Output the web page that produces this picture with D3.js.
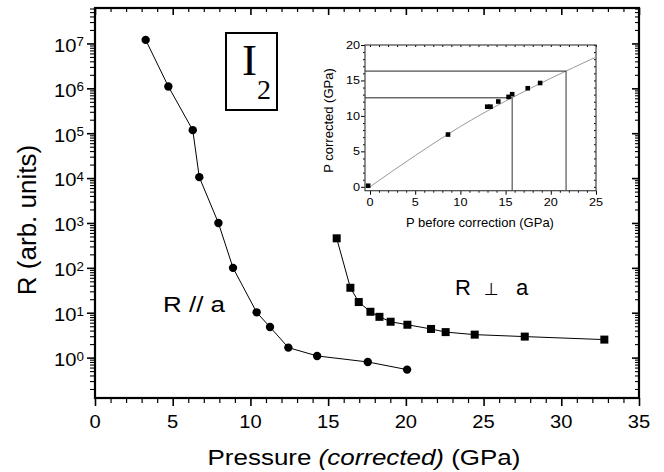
<!DOCTYPE html>
<html>
<head>
<meta charset="utf-8">
<script src="https://cdn.jsdelivr.net/npm/d3@7"></script>
<style>
    body { margin: 0; background: #fff; }
    svg { display: block; font-family: "Liberation Sans", Arial, Helvetica, sans-serif; }
    .axis path, .axis line { stroke: #000; }
</style>
</head>
<body>
<svg id="chart" width="664" height="472"></svg>
<script>
// main panel: resistance vs corrected pressure
var pressurePar = [3.26, 4.72, 6.29, 6.71, 7.94, 8.88, 10.4, 11.26, 12.44, 14.29, 17.55, 20.08];
var resPar = [1.2e7, 1.1e6, 1.17e5, 1.05e4, 1.0e3, 100, 10.2, 4.8, 1.67, 1.09, 0.80, 0.54];
var pressurePerp = [15.55, 16.43, 16.97, 17.72, 18.3, 19.02, 20.1, 21.62, 22.56, 24.43, 27.65, 32.77];
var resPerp = [455, 36, 17.3, 10.5, 8.1, 6.3, 5.4, 4.35, 3.7, 3.25, 2.94, 2.52];
var xTicks = [0, 5, 10, 15, 20, 25, 30, 35];
var yDecades = [0, 1, 2, 3, 4, 5, 6, 7];

// inset: pressure calibration
var pBefore = [-0.2, 8.63, 12.97, 13.33, 14.19, 15.33, 15.73, 17.45, 18.82];
var pCorrected = [0.15, 7.37, 11.3, 11.3, 12.03, 12.68, 13.06, 13.9, 14.64];
var fitBefore = [0, 5, 10, 15, 20, 25];
var fitCorrected = [0, 4.4, 8.5, 12.1, 15.3, 18.3];
var guideBefore = [15.73, 21.69];
var guideCorrected = [12.55, 16.32];
var insetXTicks = [0, 5, 10, 15, 20, 25];
var insetYTicks = [0, 5, 10, 15, 20];

var svg = d3.select('#chart');

var x = d3.scaleLinear().domain([0, 35]).range([95, 639]);
var y = d3.scaleLog().domain([Math.pow(10, -0.9), Math.pow(10, 7.79)]).range([398, 8]);

function label(g, str, px, py, size, anchor, sx) {
    return g.append('text')
        .attr('transform', 'translate(' + px + ',' + py + ') scale(' + sx + ',1)')
        .attr('text-anchor', anchor)
        .style('font-size', size + 'px')
        .text(str);
}

function tickAxis(g, axis, width) {
    g.attr('class', 'axis').call(axis);
    g.select('.domain').remove();
    g.selectAll('.tick line').attr('stroke-width', width);
    return g;
}

// minor values
var xMinor = d3.range(0, 36).filter(function (v) { return v % 5 !== 0; });
var yMinor = [];
d3.range(-1, 8).forEach(function (e) {
    d3.range(2, 10).forEach(function (m) {
        var v = m * Math.pow(10, e);
        if (v > y.domain()[0] && v < y.domain()[1]) { yMinor.push(v); }
    });
});
var yMajor = yDecades.map(function (e) { return Math.pow(10, e); });

// bottom (outward) and top (inward) ticks
tickAxis(svg.append('g').attr('transform', 'translate(0,398)'),
    d3.axisBottom(x).tickValues(xTicks).tickSize(8).tickFormat(''), 1.6);
tickAxis(svg.append('g').attr('transform', 'translate(0,398)'),
    d3.axisBottom(x).tickValues(xMinor).tickSize(5).tickFormat(''), 1.2);
tickAxis(svg.append('g').attr('transform', 'translate(0,8)'),
    d3.axisBottom(x).tickValues(xTicks).tickSize(7).tickFormat(''), 1.6);
tickAxis(svg.append('g').attr('transform', 'translate(0,8)'),
    d3.axisBottom(x).tickValues(xMinor).tickSize(4).tickFormat(''), 1.2);

// left (outward) and right (inward) ticks
tickAxis(svg.append('g').attr('transform', 'translate(95,0)'),
    d3.axisLeft(y).tickValues(yMajor).tickSize(8).tickFormat(''), 1.6);
tickAxis(svg.append('g').attr('transform', 'translate(95,0)'),
    d3.axisLeft(y).tickValues(yMinor).tickSize(5).tickFormat(''), 1.1);
tickAxis(svg.append('g').attr('transform', 'translate(639,0)'),
    d3.axisLeft(y).tickValues(yMajor).tickSize(7).tickFormat(''), 1.6);
tickAxis(svg.append('g').attr('transform', 'translate(639,0)'),
    d3.axisLeft(y).tickValues(yMinor).tickSize(4).tickFormat(''), 1.1);

svg.append('rect')
    .attr('x', 95).attr('y', 8)
    .attr('width', 639 - 95).attr('height', 398 - 8)
    .attr('fill', 'none').attr('stroke', '#000').attr('stroke-width', 2.2);

// tick labels
xTicks.forEach(function (v) {
    label(svg, String(v), x(v), 428, 18, 'middle', 1.12);
});
yDecades.forEach(function (e) {
    var t = svg.append('text')
        .attr('transform', 'translate(84,' + (y(Math.pow(10, e)) + 8.4) + ') scale(1.12,1)')
        .attr('text-anchor', 'end')
        .style('font-size', '18px');
    t.append('tspan').text('10');
    t.append('tspan').attr('dy', -5.5).style('font-size', '12px').text(String(e));
});

// axis titles
var xt = svg.append('text')
    .attr('transform', 'translate(364,465) scale(1.18,1)')
    .attr('text-anchor', 'middle')
    .style('font-size', '22px');
xt.append('tspan').text('Pressure ');
xt.append('tspan').style('font-style', 'italic').text('(corrected)');
xt.append('tspan').text(' (GPa)');

svg.append('text')
    .attr('transform', 'translate(36,220) rotate(-90)')
    .attr('text-anchor', 'middle')
    .style('font-size', '26px')
    .text('R (arb. units)');

// data
var line = d3.line()
    .x(function (d) { return x(d[0]); })
    .y(function (d) { return y(d[1]); });

var par = d3.zip(pressurePar, resPar);
var perp = d3.zip(pressurePerp, resPerp);

svg.append('path').datum(par).attr('d', line)
    .attr('fill', 'none').attr('stroke', '#000').attr('stroke-width', 1);
svg.append('path').datum(perp).attr('d', line)
    .attr('fill', 'none').attr('stroke', '#000').attr('stroke-width', 1);

svg.selectAll('circle.par').data(par).enter().append('circle')
    .attr('class', 'par')
    .attr('cx', function (d) { return x(d[0]); })
    .attr('cy', function (d) { return y(d[1]); })
    .attr('r', 4.2)
    .attr('fill', '#000');

svg.selectAll('rect.perp').data(perp).enter().append('rect')
    .attr('class', 'perp')
    .attr('x', function (d) { return x(d[0]) - 4; })
    .attr('y', function (d) { return y(d[1]) - 4; })
    .attr('width', 8).attr('height', 8)
    .attr('fill', '#000');

// series labels
label(svg, 'R // a', 163, 312, 22, 'start', 1.18);
var perpLabel = svg.append('text').style('font-size', '22px').attr('y', 295);
perpLabel.append('tspan').attr('x', 455).text('R');
perpLabel.append('tspan').attr('x', 484).style('font-family', '"DejaVu Sans"').style('font-size', '17px').text('\u22A5');
perpLabel.append('tspan').attr('x', 516).text('a');

// I2 box
svg.append('rect')
    .attr('x', 226).attr('y', 33).attr('width', 51).attr('height', 77)
    .attr('fill', 'none').attr('stroke', '#000').attr('stroke-width', 2);
var chem = svg.append('text').style('font-family', '"Liberation Serif", "Times New Roman", serif');
chem.append('tspan').attr('x', 242).attr('y', 75).style('font-size', '45px').text('I');
chem.append('tspan').attr('x', 257).attr('y', 99).style('font-size', '28px').text('2');

// ---- inset ----
var xi = d3.scaleLinear().domain([-0.55, 25]).range([365, 596]);
var yi = d3.scaleLinear().domain([-0.55, 20]).range([190.7, 45]);
var inset = svg.append('g');

inset.append('rect')
    .attr('x', 365).attr('y', 45).attr('width', 596 - 365).attr('height', 190.7 - 45)
    .attr('fill', '#fff');

var xiMinor = d3.range(0, 26).filter(function (v) { return v % 5 !== 0; });
var yiMinor = d3.range(0, 21).filter(function (v) { return v % 5 !== 0; });

tickAxis(inset.append('g').attr('transform', 'translate(0,190.7)'),
    d3.axisBottom(xi).tickValues(insetXTicks).tickSize(4).tickFormat(''), 1);
tickAxis(inset.append('g').attr('transform', 'translate(0,190.7)'),
    d3.axisBottom(xi).tickValues(xiMinor).tickSize(2).tickFormat(''), 1);
tickAxis(inset.append('g').attr('transform', 'translate(0,45)'),
    d3.axisBottom(xi).tickValues(d3.range(0, 26)).tickSize(2).tickFormat(''), 1);
tickAxis(inset.append('g').attr('transform', 'translate(365,0)'),
    d3.axisLeft(yi).tickValues(insetYTicks).tickSize(4).tickFormat(''), 1);
tickAxis(inset.append('g').attr('transform', 'translate(365,0)'),
    d3.axisLeft(yi).tickValues(yiMinor).tickSize(2).tickFormat(''), 1);
tickAxis(inset.append('g').attr('transform', 'translate(596,0)'),
    d3.axisLeft(yi).tickValues(d3.range(0, 21)).tickSize(2).tickFormat(''), 1);
inset.selectAll('.tick line').attr('stroke', '#444');

inset.append('rect')
    .attr('x', 365).attr('y', 45).attr('width', 596 - 365).attr('height', 190.7 - 45)
    .attr('fill', 'none').attr('stroke', '#444').attr('stroke-width', 1.2);

insetXTicks.forEach(function (v) {
    label(inset, String(v), xi(v), 206, 11, 'middle', 1.15);
});
insetYTicks.forEach(function (v) {
    label(inset, String(v), 360, yi(v) + 4, 11, 'end', 1.15);
});

inset.append('text')
    .attr('transform', 'translate(480,227)')
    .attr('text-anchor', 'middle')
    .style('font-size', '13px')
    .text('P before correction (GPa)');
inset.append('text')
    .attr('transform', 'translate(333,120.5) rotate(-90)')
    .attr('text-anchor', 'middle')
    .style('font-size', '13px')
    .text('P corrected (GPa)');

// fit curve
var fitLine = d3.line()
    .x(function (d) { return xi(d[0]); })
    .y(function (d) { return yi(d[1]); })
    .curve(d3.curveMonotoneX);
inset.append('path').datum(d3.zip(fitBefore, fitCorrected)).attr('d', fitLine)
    .attr('fill', 'none').attr('stroke', '#9a9a9a').attr('stroke-width', 1);

// guide lines
d3.zip(guideBefore, guideCorrected).forEach(function (g) {
    inset.append('line')
        .attr('x1', xi.range()[0]).attr('x2', xi(g[0]))
        .attr('y1', yi(g[1])).attr('y2', yi(g[1]))
        .attr('stroke', '#222').attr('stroke-width', 1);
    inset.append('line')
        .attr('x1', xi(g[0])).attr('x2', xi(g[0]))
        .attr('y1', yi(g[1])).attr('y2', yi.range()[0])
        .attr('stroke', '#555').attr('stroke-width', 1.2);
});

inset.selectAll('rect.cal').data(d3.zip(pBefore, pCorrected)).enter().append('rect')
    .attr('class', 'cal')
    .attr('x', function (d) { return xi(d[0]) - 2.3; })
    .attr('y', function (d) { return yi(d[1]) - 2.3; })
    .attr('width', 4.6).attr('height', 4.6)
    .attr('fill', '#000');
</script>
</body>
</html>
